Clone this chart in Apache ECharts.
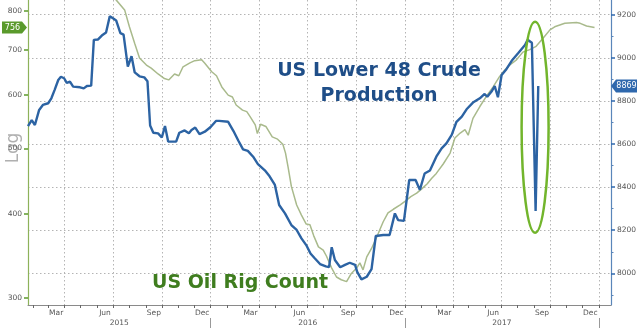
<!DOCTYPE html>
<html>
<head>
<meta charset="utf-8">
<script src="https://cdn.jsdelivr.net/npm/echarts@6/dist/echarts.min.js"></script>
<style>
  html, body { margin: 0; padding: 0; background: #fff; }
  #chart { width: 640px; height: 332px; }
</style>
</head>
<body>
<div id="chart"></div>
<script>
// US Lower 48 crude production, thousand barrels per day (right axis)
const productionDates = [
  '2015-01-22','2015-01-29','2015-02-04','2015-02-12','2015-02-19','2015-03-01','2015-03-07','2015-03-13',
  '2015-03-20','2015-03-25','2015-03-31','2015-04-05','2015-04-11','2015-04-17','2015-04-30','2015-05-07',
  '2015-05-13','2015-05-21','2015-05-26','2015-06-03','2015-06-10','2015-06-18','2015-06-25','2015-07-01',
  '2015-07-07','2015-07-15','2015-07-21','2015-07-29','2015-08-05','2015-08-11','2015-08-20','2015-08-29',
  '2015-09-04','2015-09-09','2015-09-15','2015-09-24','2015-10-01','2015-10-07','2015-10-13','2015-10-28',
  '2015-11-03','2015-11-13','2015-11-21','2015-11-26','2015-12-03','2015-12-11','2015-12-21','2016-01-01',
  '2016-01-11','2016-01-17','2016-02-03','2016-02-13','2016-02-22','2016-03-02','2016-03-11','2016-03-21',
  '2016-03-30','2016-04-12','2016-04-21','2016-05-01','2016-05-09','2016-05-20','2016-06-01','2016-06-11',
  '2016-06-20','2016-06-29','2016-07-07','2016-07-15','2016-07-25','2016-08-05','2016-08-11','2016-08-16',
  '2016-08-22','2016-09-01','2016-09-10','2016-09-19','2016-09-29','2016-10-03','2016-10-11','2016-10-21',
  '2016-10-30','2016-11-07','2016-11-21','2016-12-03','2016-12-13','2016-12-19','2016-12-30','2017-01-09',
  '2017-01-21','2017-01-29','2017-02-07','2017-02-17','2017-03-01','2017-03-11','2017-03-20','2017-03-30',
  '2017-04-08','2017-04-18','2017-04-27','2017-05-09','2017-05-22','2017-05-31','2017-06-05','2017-06-13',
  '2017-06-19','2017-06-25','2017-07-02','2017-07-11','2017-07-21','2017-08-02','2017-08-15','2017-08-20',
  '2017-08-28','2017-09-04','2017-09-09'
];
const productionValues = [
  8683, 8711, 8688, 8758, 8781, 8789, 8812, 8850,
  8897, 8912, 8905, 8884, 8889, 8866, 8863, 8858,
  8869, 8871, 9083, 9085, 9103, 9117, 9193, 9183,
  9173, 9114, 9107, 8959, 9007, 8932, 8914, 8909,
  8891, 8686, 8652, 8649, 8630, 8683, 8611, 8611,
  8652, 8663, 8650, 8665, 8676, 8646, 8657, 8679,
  8707, 8707, 8703, 8660, 8616, 8575, 8568, 8541,
  8507, 8478, 8450, 8410, 8317, 8278, 8224, 8201,
  8162, 8131, 8092, 8070, 8043, 8032, 8029, 8121,
  8062, 8028, 8039, 8049, 8039, 8007, 7972, 7984,
  8019, 8173, 8178, 8178, 8278, 8247, 8243, 8433,
  8433, 8387, 8463, 8477, 8541, 8580, 8603, 8642,
  8703, 8727, 8761, 8792, 8812, 8832, 8819, 8843,
  8869, 8817, 8920, 8947, 8986, 9021, 9059, 9083,
  9070, 8289, 8869
];

// US oil rig count, plotted forward in time (left log axis)
const rigDates = [
  '2015-06-21','2015-07-07','2015-07-23','2015-08-01','2015-08-11','2015-08-20','2015-09-02','2015-09-11',
  '2015-09-24','2015-10-06','2015-10-14','2015-10-25','2015-11-02','2015-11-10','2015-11-23','2015-12-02',
  '2015-12-15','2015-12-21','2016-01-03','2016-01-12','2016-01-22','2016-02-03','2016-02-11','2016-02-18',
  '2016-03-01','2016-03-09','2016-03-15','2016-03-25','2016-03-29','2016-04-04','2016-04-14','2016-04-26',
  '2016-05-06','2016-05-16','2016-05-21','2016-05-26','2016-06-01','2016-06-11','2016-06-20','2016-06-29',
  '2016-07-06','2016-07-13','2016-07-22','2016-07-31','2016-08-06','2016-08-16','2016-08-25','2016-09-03',
  '2016-09-13','2016-09-22','2016-10-02','2016-10-08','2016-10-14','2016-10-21','2016-10-30','2016-11-08',
  '2016-11-21','2016-11-30','2016-12-10','2016-12-23','2017-01-01','2017-01-12','2017-01-23','2017-02-01',
  '2017-02-12','2017-02-20','2017-03-01','2017-03-14','2017-03-27','2017-04-05','2017-04-15','2017-04-24',
  '2017-04-30','2017-05-09','2017-05-22','2017-06-03','2017-06-16','2017-06-28','2017-07-08','2017-07-17',
  '2017-07-30','2017-08-11','2017-08-24','2017-09-05','2017-09-18','2017-10-01','2017-10-10','2017-10-29',
  '2017-11-20','2017-11-27','2017-12-09','2017-12-24'
];
const rigValues = [
  860, 831, 803, 758, 716, 681, 665, 658,
  645, 635, 632, 645, 641, 661, 670, 675,
  677, 669, 650, 641, 617, 600, 596, 580,
  570, 567, 558, 542, 526, 543, 539, 520,
  516, 507, 492, 468, 439, 412, 398, 386,
  385, 371, 357, 353, 346, 332, 322, 319,
  317, 326, 332, 338, 330, 345, 355, 368,
  389, 401, 406, 412, 417, 424, 429, 435,
  443, 451, 459, 474, 492, 518, 527, 533,
  523, 554, 577, 597, 617, 639, 654, 665,
  677, 695, 701, 709, 729, 750, 758, 767,
  769, 767, 760, 756
];

// Axis ticks and labels
const rigTicks = [300, 400, 500, 600, 700, 800];
const productionTicks = [8000, 8200, 8400, 8600, 8800, 9000, 9200];
const productionMinorTicks = [7900, 8100, 8300, 8500, 8700, 8900, 9100];
const monthLabels = ['Mar', 'Jun', 'Sep', 'Dec'];
const yearLabels = ['2015', '2016', '2017'];

const X_MIN = '2015-01-22';
const X_MAX = '2018-01-24';
const RIG_MIN = 292.6, RIG_MAX = 830.7;
const PROD_MIN = 7853, PROD_MAX = 9268;

const FONT = '"DejaVu Sans", Verdana, sans-serif';
const BLUE = '#2c63a3';
const OLIVE = '#a9ba8c';
const GRID = '#b4b4b4';

const ts = s => echarts.time.parse(s).getTime();
const pad = n => (n < 10 ? '0' : '') + n;
const monthIndex = { Mar: 3, Jun: 6, Sep: 9, Dec: 12 };

// label anchors (mid-month), quarter boundaries, month boundaries, year boundaries
const monthLabelDates = [];
yearLabels.forEach(y => {
  monthLabels.forEach(m => monthLabelDates.push(ts(y + '-' + pad(monthIndex[m]) + '-16')));
});
const monthStarts = [];
const quarterStarts = [];
for (let y = 2015; y <= 2018; y++) {
  for (let m = 1; m <= 12; m++) {
    const t = ts(y + '-' + pad(m) + '-01');
    monthStarts.push(t);
    if ((m - 1) % 3 === 0) quarterStarts.push(t);
  }
}
const yearStarts = yearLabels.map(y => ts((+y + 1) + '-01-01'));
const xMin = ts(X_MIN), xMax = ts(X_MAX);
const yearCentres = yearLabels.map(y => (Math.max(ts(y + '-01-01'), xMin) + ts((+y + 1) + '-01-01')) / 2);

const axisFont = { color: '#555', fontSize: 7.5, fontFamily: FONT };
const baseX = { type: 'value', min: xMin, max: xMax, gridIndex: 0, position: 'bottom', scale: true };

const option = {
  animation: false,
  backgroundColor: '#fff',
  grid: { left: 28, right: 29, top: 0, bottom: 27, containLabel: false, outerBoundsMode: 'none' },
  xAxis: [
    Object.assign({}, baseX, {
      axisLine: { show: true, lineStyle: { color: '#8a8a8a', width: 1 } },
      axisTick: { show: true, length: 3, lineStyle: { color: '#666' }, customValues: monthStarts },
      axisLabel: {
        show: true, margin: 4, ...axisFont,
        customValues: monthLabelDates,
        formatter: v => monthLabels[Math.floor(new Date(v).getMonth() / 3)]
      },
      splitLine: { show: false }
    }),
    Object.assign({}, baseX, {
      axisLine: { show: false },
      axisTick: { show: false, customValues: quarterStarts },
      axisLabel: { show: false },
      splitLine: { show: true, lineStyle: { color: GRID, type: [1.5, 2.5], width: 1 } }
    }),
    Object.assign({}, baseX, {
      offset: 13,
      axisLine: { show: false },
      axisTick: { show: true, length: 10, lineStyle: { color: '#999' }, customValues: yearStarts },
      axisLabel: {
        show: true, margin: 1, ...axisFont,
        customValues: yearCentres,
        formatter: v => String(new Date(v).getFullYear())
      },
      splitLine: { show: false }
    })
  ],
  yAxis: [
    {
      type: 'log', logBase: 10, min: RIG_MIN, max: RIG_MAX, position: 'left',
      axisLine: { show: true, lineStyle: { color: '#8db25a', width: 1.2 } },
      axisTick: { show: true, length: 4, lineStyle: { color: '#5c9a2c', width: 1.5 }, customValues: rigTicks },
      axisLabel: { show: true, margin: 6, ...axisFont, customValues: rigTicks, formatter: v => String(Math.round(v)) },
      splitLine: { show: false }
    },
    {
      type: 'value', min: PROD_MIN, max: PROD_MAX, position: 'right',
      axisLine: { show: true, lineStyle: { color: '#5a86ba', width: 1.2 } },
      axisTick: { show: true, length: 4, lineStyle: { color: '#2f68ad', width: 1.5 }, customValues: productionTicks },
      axisLabel: { show: true, margin: 6, ...axisFont, customValues: productionTicks, formatter: v => String(Math.round(v)) },
      splitLine: { show: true, lineStyle: { color: GRID, type: [1.5, 2.5], width: 1 } }
    },
    {
      type: 'value', min: PROD_MIN, max: PROD_MAX, position: 'right',
      axisLine: { show: false },
      axisTick: { show: true, length: 2.5, lineStyle: { color: '#5a86ba' }, customValues: productionMinorTicks },
      axisLabel: { show: false },
      splitLine: { show: false }
    }
  ],
  series: [
    {
      name: 'US Oil Rig Count', type: 'line', xAxisIndex: 0, yAxisIndex: 0,
      data: rigDates.map((d, i) => [ts(d), rigValues[i]]),
      showSymbol: false, clip: true, z: 2,
      lineStyle: { color: OLIVE, width: 1.5 }
    },
    {
      name: 'US Lower 48 Crude Production', type: 'line', xAxisIndex: 0, yAxisIndex: 1,
      data: productionDates.map((d, i) => [ts(d), productionValues[i]]),
      showSymbol: false, clip: true, z: 3,
      lineStyle: { color: BLUE, width: 2.4 }
    }
  ]
};

const chart = echarts.init(document.getElementById('chart'), null, { renderer: 'canvas' });
chart.setOption(option);

// last-value tags on the axes and annotations
const lastRig = rigValues[rigValues.length - 1];
const lastProd = productionValues[productionValues.length - 1];
const yRig = chart.convertToPixel({ yAxisIndex: 0 }, lastRig);
const yProd = chart.convertToPixel({ yAxisIndex: 1 }, lastProd);

// the hurricane dip: lowest production point among the latest weeks
let dipIdx = productionValues.length - 1;
for (let i = productionValues.length - 1; i > productionValues.length - 6; i--) {
  if (productionValues[i] < productionValues[dipIdx]) dipIdx = i;
}
const dipX = chart.convertToPixel({ xAxisIndex: 0 }, ts(productionDates[dipIdx]));
const ringTop = chart.convertToPixel({ yAxisIndex: 1 }, 9167);
const ringBottom = chart.convertToPixel({ yAxisIndex: 1 }, 8188);

chart.setOption({
  graphic: [
    {
      type: 'text', z: 0, x: 14, y: 148, rotation: Math.PI / 2,
      style: { text: 'Log', fill: '#b0b0b0', font: '17px ' + FONT, align: 'center', verticalAlign: 'middle' }
    },
    {
      type: 'polygon', z: 10,
      shape: { points: [[2, yRig - 6], [22, yRig - 6], [27, yRig], [22, yRig + 6], [2, yRig + 6]] },
      style: { fill: '#5a9a2c' }
    },
    {
      type: 'text', z: 11, x: 12.5, y: yRig,
      style: { text: String(lastRig), fill: '#fff', font: '8px ' + FONT, align: 'center', verticalAlign: 'middle' }
    },
    {
      type: 'polygon', z: 10,
      shape: { points: [[611, yProd], [616, yProd - 6.5], [637, yProd - 6.5], [637, yProd + 6.5], [616, yProd + 6.5]] },
      style: { fill: '#2f68ad' }
    },
    {
      type: 'text', z: 11, x: 626.5, y: yProd,
      style: { text: String(lastProd), fill: '#fff', font: '8px ' + FONT, align: 'center', verticalAlign: 'middle' }
    },
    {
      type: 'ellipse', z: 9,
      shape: { cx: dipX - 0.5, cy: (ringTop + ringBottom) / 2, rx: 13.5, ry: (ringBottom - ringTop) / 2 },
      style: { fill: 'none', stroke: '#72b52c', lineWidth: 2.5 }
    },
    {
      type: 'text', z: 8, x: 379, y: 84,
      style: {
        text: 'US Lower 48 Crude\nProduction', fill: '#1f4e88',
        font: 'bold 19px ' + FONT, align: 'center', verticalAlign: 'middle', lineHeight: 25
      }
    },
    {
      type: 'text', z: 8, x: 240, y: 283,
      style: { text: 'US Oil Rig Count', fill: '#3f7d1f', font: 'bold 19px ' + FONT, align: 'center', verticalAlign: 'middle' }
    }
  ]
});
</script>
</body>
</html>
